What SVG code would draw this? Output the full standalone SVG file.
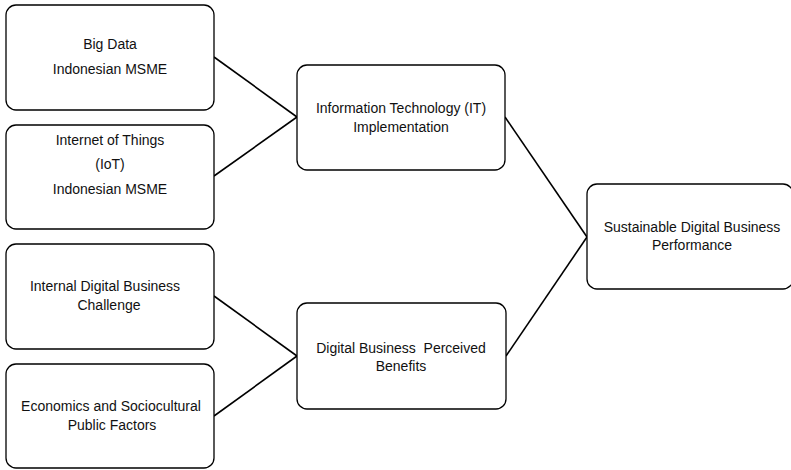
<svg xmlns="http://www.w3.org/2000/svg" width="791" height="470" viewBox="0 0 791 470">
  <style>
    .box { fill: #ffffff; stroke: #000000; stroke-width: 1.3; }
    .lbl { font-family: "Liberation Sans", Arial, sans-serif; font-size: 14px; fill: #111111; text-anchor: middle; white-space: pre; }
    .edge { stroke: #000000; stroke-width: 1.6; fill: none; }
  </style>
  <rect width="791" height="470" fill="#ffffff"/>

  <g id="connectors">
    <line class="edge" x1="214" y1="57" x2="297" y2="117"/>
    <line class="edge" x1="214" y1="176" x2="297" y2="117"/>
    <line class="edge" x1="214" y1="296" x2="297" y2="356"/>
    <line class="edge" x1="214" y1="416" x2="297" y2="356"/>
    <line class="edge" x1="505" y1="117" x2="587" y2="237"/>
    <line class="edge" x1="506" y1="356" x2="587" y2="237"/>
  </g>

  <g id="big-data">
    <rect class="box" x="6" y="5" width="208" height="105" rx="10"/>
    <text class="lbl" x="110" y="49">Big Data</text>
    <text class="lbl" x="110" y="74">Indonesian MSME</text>
  </g>

  <g id="iot">
    <rect class="box" x="6" y="125" width="208" height="104" rx="10"/>
    <text class="lbl" x="110" y="145">Internet of Things</text>
    <text class="lbl" x="110" y="169">(IoT)</text>
    <text class="lbl" x="110" y="194">Indonesian MSME</text>
  </g>

  <g id="internal-challenge">
    <rect class="box" x="6" y="244" width="208" height="105" rx="10"/>
    <text class="lbl" x="105" y="291">Internal Digital Business</text>
    <text class="lbl" x="109" y="310">Challenge</text>
  </g>

  <g id="economics-factors">
    <rect class="box" x="6" y="364" width="208" height="104" rx="10"/>
    <text class="lbl" x="111" y="411">Economics and Sociocultural</text>
    <text class="lbl" x="112" y="430">Public Factors</text>
  </g>

  <g id="it-implementation">
    <rect class="box" x="297" y="65" width="208" height="105" rx="10"/>
    <text class="lbl" x="401" y="113">Information Technology (IT)</text>
    <text class="lbl" x="401" y="132">Implementation</text>
  </g>

  <g id="perceived-benefits">
    <rect class="box" x="297" y="303" width="209" height="106" rx="10"/>
    <text class="lbl" x="401" y="353" xml:space="preserve">Digital Business  Perceived</text>
    <text class="lbl" x="401" y="371">Benefits</text>
  </g>

  <g id="sustainable-performance">
    <rect class="box" x="587" y="184" width="206" height="105" rx="10"/>
    <text class="lbl" x="692" y="232">Sustainable Digital Business</text>
    <text class="lbl" x="692" y="250">Performance</text>
  </g>
</svg>
